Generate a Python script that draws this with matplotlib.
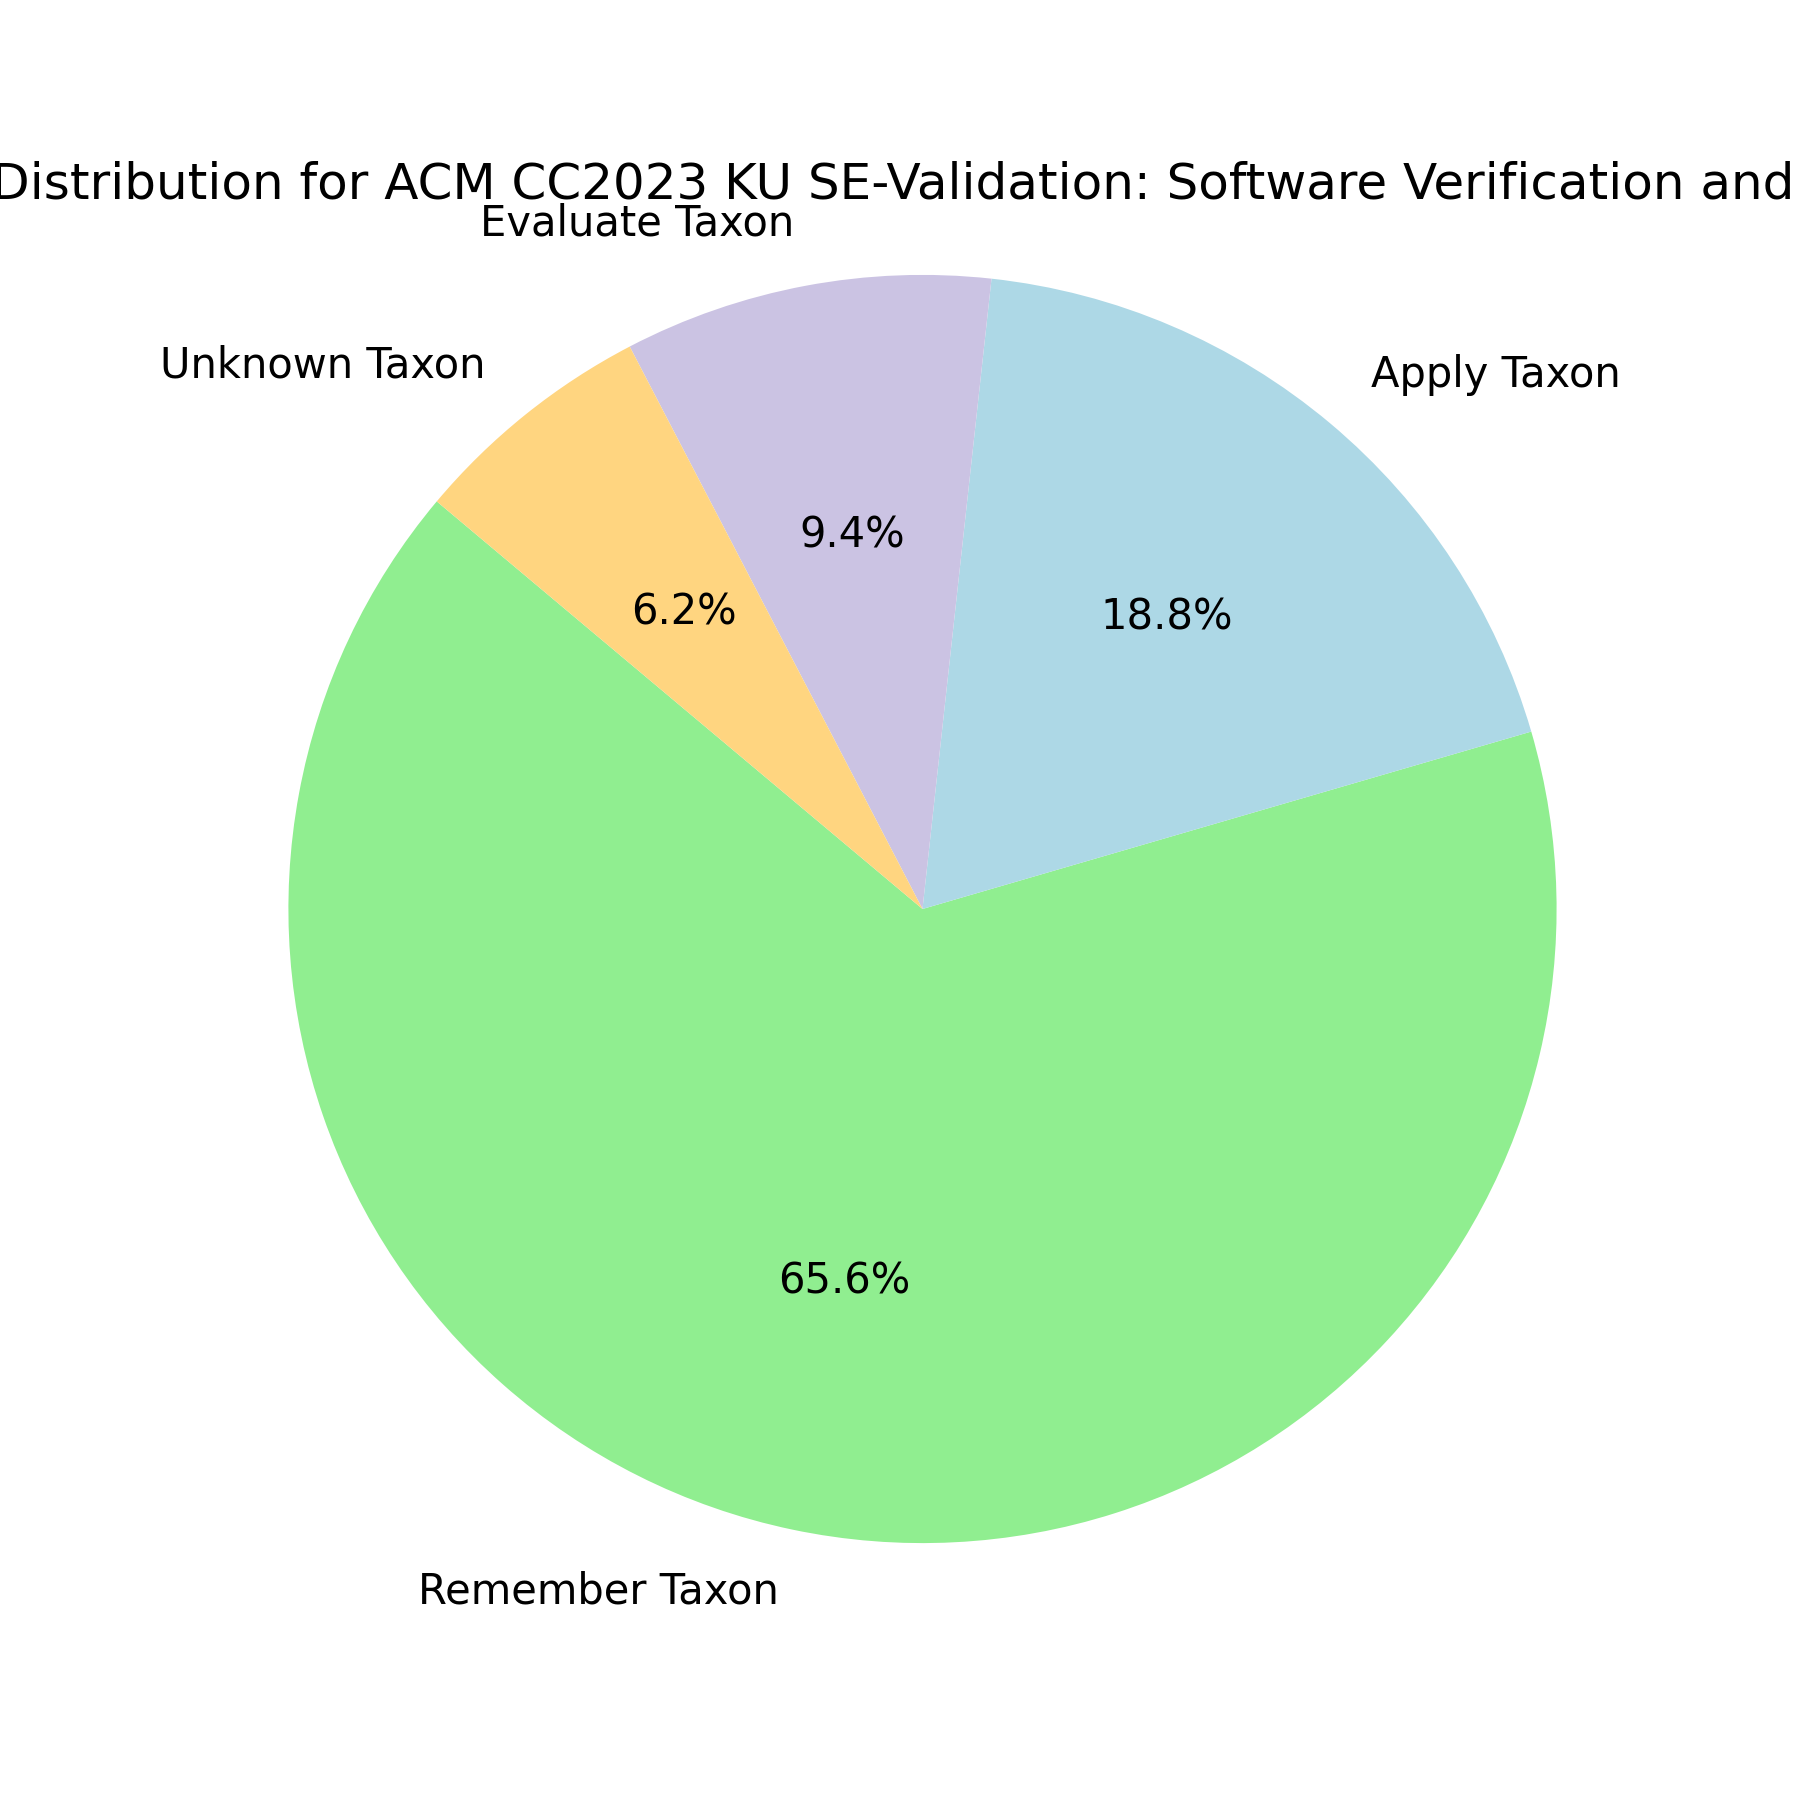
import matplotlib
matplotlib.use("Agg")
import matplotlib.pyplot as plt

labels = ['Remember Taxon', 'Apply Taxon', 'Evaluate Taxon', 'Unknown Taxon']
counts = [21, 6, 3, 2]
colors = ['#90EE90', '#ADD8E6', '#CBC3E3', '#FFD580']
title = ('Taxonomy Distribution for ACM CC2023 KU SE-Validation: '
         'Software Verification and Validation')


def main():
    fig, ax = plt.subplots(figsize=(9, 9))
    ax.pie(counts, labels=labels, colors=colors, autopct='%1.1f%%',
           startangle=140, textprops={'fontsize': 15})
    ax.set_title(title, fontsize=18, x=0.477)
    ax.axis('equal')
    fig.savefig('out.png', dpi=200)


if __name__ == "__main__":
    main()
